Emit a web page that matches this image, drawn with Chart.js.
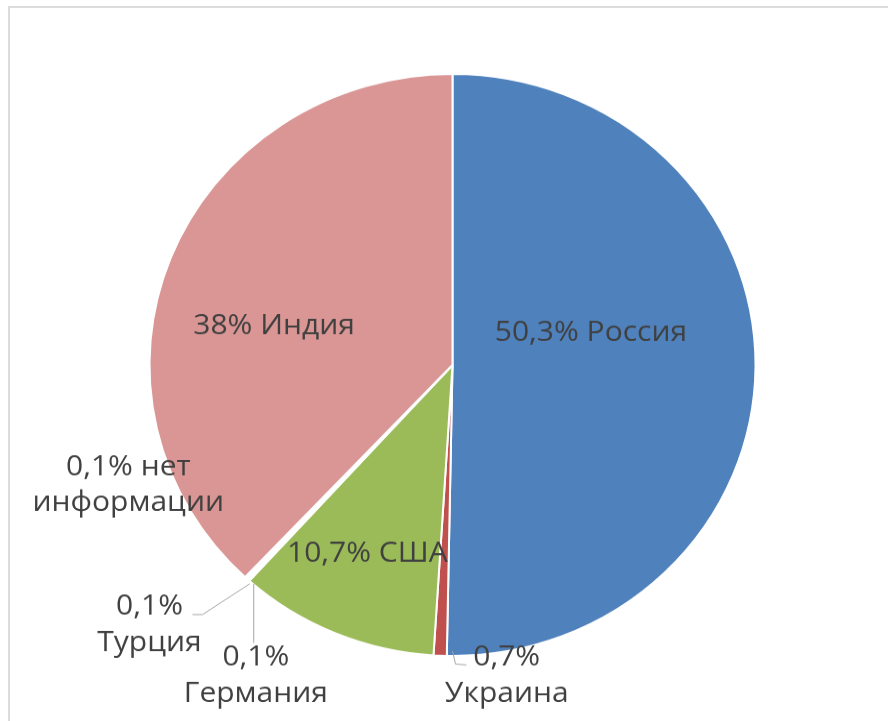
<!DOCTYPE html>
<html>
<head>
<meta charset="utf-8">
<script src="https://cdn.jsdelivr.net/npm/chart.js@4/dist/chart.umd.min.js"></script>
<style>
  html, body { margin: 0; padding: 0; background: #fff; overflow: hidden; }
  #wrap { position: relative; width: 888px; height: 721px; overflow: hidden; }
  #frame { position: absolute; left: 8px; top: 6px; right: 0; bottom: 0; border-top: 2px solid #dcdcdc; border-left: 2px solid #dcdcdc; }
  /* the original picture is a little squashed vertically */
  #chart { position: absolute; left: 0; top: 0; transform: scaleY(0.9603); transform-origin: 0 0; }
</style>
</head>
<body>
<div id="wrap">
  <div id="frame"></div>
  <canvas id="chart" width="888" height="751"></canvas>
</div>
<script>
// Страны и доли (%)
let categories = ['Россия', 'Украина', 'США', 'Германия', 'Турция', 'нет информации', 'Индия'];
let shares = [50.3, 0.7, 10.7, 0.1, 0.1, 0.1, 38];
let colors = ['#4F81BD', '#C0504D', '#9BBB59', '#8064A2', '#4BACC6', '#F79646', '#D99694'];

// where each label sits, in units of the pie radius from its centre
// breakAfter = how many words go on the first line
let labelLayout = [
  { dx: 0.457, dy: -0.110, breakAfter: null },
  { dx: 0.179, dy: 1.068, breakAfter: 1, line: [[0, 0.983], [0.010, 1.028], [0.046, 1.031]] },
  { dx: -0.281, dy: 0.649, breakAfter: null },
  { dx: -0.649, dy: 1.068, breakAfter: 1, line: [[-0.656, 0.752], [-0.656, 0.955]] },
  { dx: -1.0, dy: 0.893, breakAfter: 1, line: [[-0.858, 0.858], [-0.825, 0.858], [-0.669, 0.752]] },
  { dx: -1.070, dy: 0.413, breakAfter: 2 },
  { dx: -0.589, dy: -0.134, breakAfter: null }
];

function pct(v) {
  return String(v).replace('.', ',') + '%';
}

let sliceLabels = {
  id: 'sliceLabels',
  afterDatasetsDraw(chart) {
    let ctx = chart.ctx;
    let arc = chart.getDatasetMeta(0).data[0];
    let cx = arc.x, cy = arc.y, R = arc.outerRadius;
    ctx.save();
    // leader lines
    ctx.strokeStyle = '#a6a6a6';
    ctx.lineWidth = 1;
    labelLayout.forEach(l => {
      if (!l.line) return;
      ctx.beginPath();
      l.line.forEach((p, i) => {
        let x = cx + p[0] * R, y = cy + p[1] * R;
        if (i == 0) ctx.moveTo(x, y); else ctx.lineTo(x, y);
      });
      ctx.stroke();
    });
    ctx.fillStyle = '#404040';
    ctx.font = '30px "Open Sans"';
    ctx.textAlign = 'center';
    ctx.textBaseline = 'middle';
    let lh = 37.5;
    categories.forEach((name, i) => {
      let l = labelLayout[i];
      let words = (pct(shares[i]) + ' ' + name).split(' ');
      let lines = l.breakAfter ? [words.slice(0, l.breakAfter).join(' '), words.slice(l.breakAfter).join(' ')] : [words.join(' ')];
      let x = cx + l.dx * R;
      let y0 = cy + l.dy * R - (lines.length - 1) * lh / 2;
      lines.forEach((t, k) => ctx.fillText(t, x, y0 + k * lh));
    });
    ctx.restore();
  }
};

new Chart(document.getElementById('chart'), {
  type: 'pie',
  data: {
    labels: categories,
    datasets: [{
      data: shares,
      backgroundColor: colors,
      borderColor: '#ffffff',
      borderWidth: 2
    }]
  },
  options: {
    responsive: false,
    animation: false,
    layout: { padding: { top: 76, bottom: 67, left: 17, right: 0 } },
    plugins: {
      legend: { display: false },
      tooltip: { enabled: false }
    }
  },
  plugins: [sliceLabels]
});
</script>
</body>
</html>
